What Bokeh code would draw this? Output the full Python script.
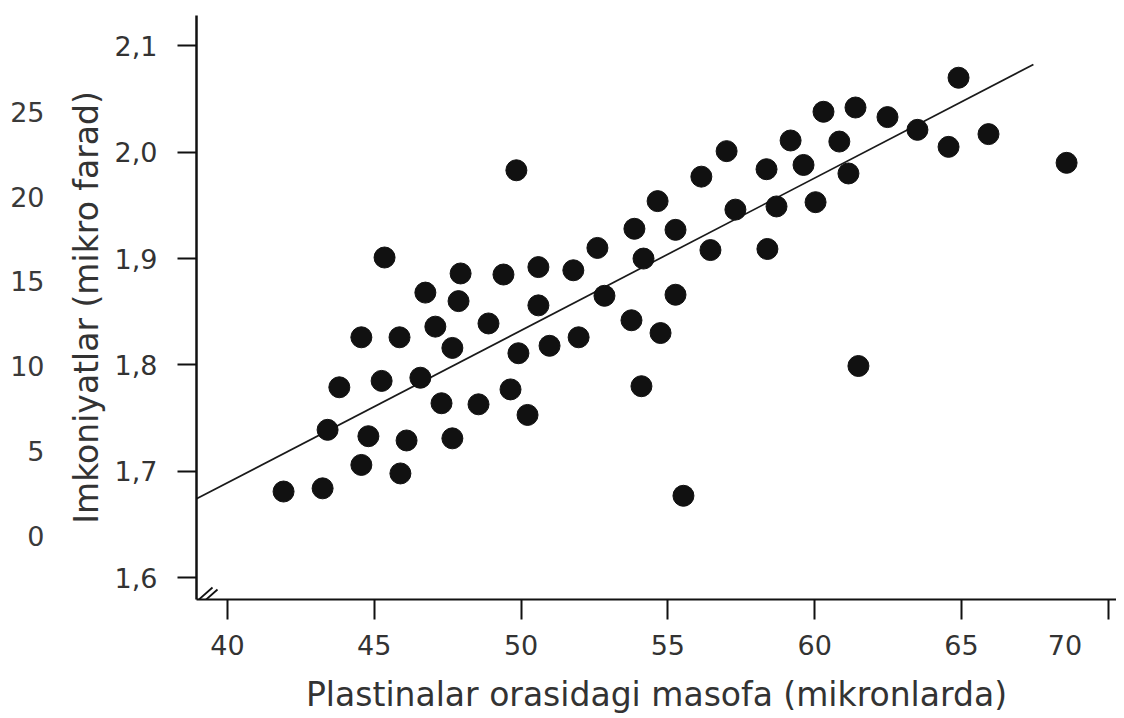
from bokeh.plotting import figure
from bokeh.models import (LinearAxis, Range1d, FixedTicker, CustomJSTickFormatter,
                          Arrow, ColumnDataSource)
from bokeh.embed import file_html
from bokeh.resources import INLINE

# ---- data ----
spacing_um = [41.91, 43.24, 43.41, 43.81, 44.56, 44.80, 44.56, 45.25, 45.35, 45.86,
              45.89, 46.10, 46.57, 46.74, 47.08, 47.29, 47.66, 47.66, 47.87, 47.94,
              48.55, 48.89, 49.40, 49.64, 49.84, 49.91, 50.22, 50.59, 50.59, 50.97,
              51.78, 51.96, 52.60, 52.84, 53.76, 53.86, 54.10, 54.17, 54.65, 54.75,
              55.26, 55.26, 55.53, 56.14, 56.45, 57.00, 57.30, 58.36, 58.39, 58.70,
              59.18, 59.62, 60.03, 60.30, 60.84, 61.15, 61.39, 61.49, 62.48, 63.50,
              64.56, 64.90, 65.92, 68.58]
capacitance_uf = [1.681, 1.684, 1.739, 1.779, 1.826, 1.733, 1.706, 1.785, 1.901, 1.826,
                  1.698, 1.729, 1.788, 1.868, 1.836, 1.764, 1.816, 1.731, 1.860, 1.886,
                  1.763, 1.839, 1.885, 1.777, 1.983, 1.811, 1.753, 1.856, 1.892, 1.818,
                  1.889, 1.826, 1.910, 1.865, 1.842, 1.928, 1.780, 1.900, 1.954, 1.830,
                  1.927, 1.866, 1.677, 1.977, 1.908, 2.001, 1.946, 1.984, 1.909, 1.949,
                  2.011, 1.988, 1.953, 2.038, 2.010, 1.980, 2.042, 1.799, 2.033, 2.021,
                  2.005, 2.070, 2.017, 1.990]
fit_x = [38.945, 67.45]
fit_y = [1.6741, 2.0824]
x_ticks = [40, 45, 50, 55, 60, 65, 70]
y_ticks = [1.6, 1.7, 1.8, 1.9, 2.0, 2.1]
outer_ticks = [0, 5, 10, 15, 20, 25]

FONT = "DejaVu Sans"
TXT = "#333333"
INK = "#111111"

X0, X1 = 38.945, 70.28
Y0, Y1 = 1.5795, 2.1285
FRAME_W, FRAME_H = 920, 584

p = figure(width=1116, height=716, x_range=Range1d(X0, X1), y_range=Range1d(Y0, Y1),
           output_backend="svg", toolbar_location=None,
           min_border_left=196, min_border_right=0, min_border_top=15, min_border_bottom=117,
           outline_line_color=None, background_fill_color="white", border_fill_color="white")
p.grid.visible = False
p.extra_y_ranges = {"outer": Range1d(-3.76, 30.68)}

xa = p.xaxis[0]
xa.ticker = FixedTicker(ticks=x_ticks)
# the last label sits to the left of its tick in the original
xa.major_label_overrides = {x_ticks[-1]: str(x_ticks[-1]) + "\u00a0" * 4}
xa.axis_line_width = 2
xa.axis_line_color = INK
xa.major_tick_out = 20
xa.major_tick_in = 0
xa.major_tick_line_width = 2
xa.major_tick_line_color = INK
xa.minor_tick_line_color = None
xa.major_label_text_font = FONT
xa.major_label_text_font_size = "27px"
xa.major_label_text_color = TXT
xa.major_label_standoff = 10
xa.axis_label = "Plastinalar orasidagi masofa (mikronlarda)"
xa.axis_label_text_font = FONT
xa.axis_label_text_font_size = "33px"
xa.axis_label_text_font_style = "normal"
xa.axis_label_text_color = TXT
xa.axis_label_standoff = 11

ya = p.yaxis[0]
ya.ticker = FixedTicker(ticks=y_ticks)
ya.formatter = CustomJSTickFormatter(code="return tick.toFixed(1).replace('.', ',');")
ya.axis_line_width = 2.5
ya.axis_line_color = INK
ya.major_tick_out = 19
ya.major_tick_in = 0
ya.major_tick_line_width = 2
ya.major_tick_line_color = INK
ya.minor_tick_line_color = None
ya.major_label_text_font = FONT
ya.major_label_text_font_size = "27px"
ya.major_label_text_color = TXT
ya.major_label_standoff = 20
ya.axis_label = "Imkoniyatlar (mikro farad)"
ya.axis_label_text_font = FONT
ya.axis_label_text_font_size = "33px"
ya.axis_label_text_font_style = "normal"
ya.axis_label_text_color = TXT
ya.axis_label_standoff = 6

outer = LinearAxis(y_range_name="outer", ticker=FixedTicker(ticks=outer_ticks),
                   axis_line_color=None, major_tick_line_color=None,
                   minor_tick_line_color=None, major_tick_in=0, major_tick_out=0,
                   major_label_standoff=19, major_label_text_font=FONT,
                   major_label_text_font_size="27px", major_label_text_color="#3a3a3a")
p.add_layout(outer, "left")

# axis break marks at the corner
px_per_x = FRAME_W / (X1 - X0)
px_per_y = FRAME_H / (Y1 - Y0)
for dx in (0, 5):
    p.add_layout(Arrow(end=None,
                       x_start=X0 + (-10 + dx) / px_per_x, y_start=Y0 + (-11 - 2 * (dx > 0)) / px_per_y,
                       x_end=X0 + (16 + dx) / px_per_x, y_end=Y0 + (12 - 2 * (dx > 0)) / px_per_y,
                       line_color=INK, line_width=1.8))

src = ColumnDataSource(dict(x=spacing_um, y=capacitance_uf))
p.line(fit_x, fit_y, line_color="#1a1a1a", line_width=1.7)
p.scatter("x", "y", source=src, size=21, fill_color=INK, line_color=INK)

open("out.html", "w").write(file_html(p, INLINE))
